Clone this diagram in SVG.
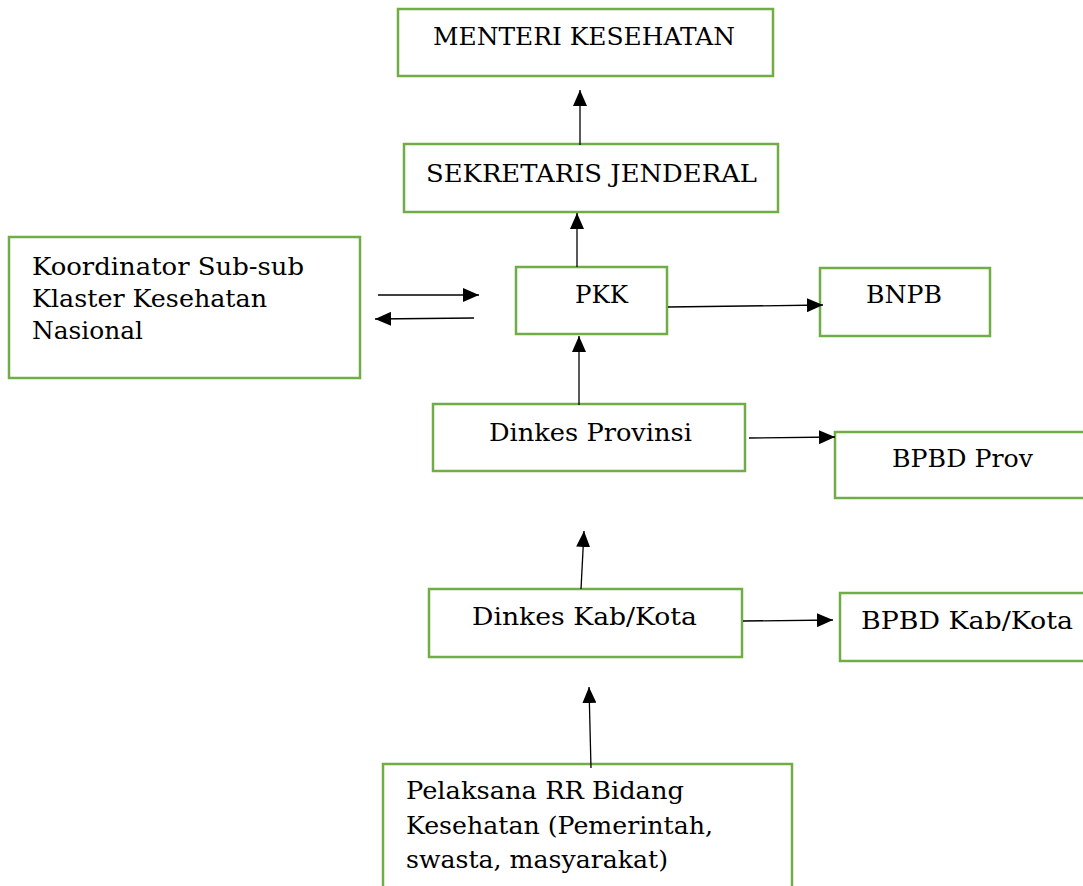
<svg xmlns="http://www.w3.org/2000/svg" width="1083" height="886" viewBox="0 0 1083 886">
<style>
.box{fill:#fff;stroke:#70AD47;stroke-width:2.5}
.t{font-family:"DejaVu Serif","Liberation Serif",serif;font-size:24px;fill:#000}
.ln{stroke:#000;stroke-width:1.3;fill:none;marker-end:url(#ah)}
</style>
<defs>
<marker id="ah" markerUnits="userSpaceOnUse" markerWidth="16" markerHeight="14" refX="16" refY="7" orient="auto">
<path d="M0,0 L16,7 L0,14 Z" fill="#000"/>
</marker>
</defs>
<rect width="1083" height="886" fill="#fff"/>
<g id="menteri"><rect class="box" x="398" y="9" width="375" height="67"/><text class="t" x="433" y="45" textLength="302" lengthAdjust="spacingAndGlyphs">MENTERI KESEHATAN</text></g>
<g id="sekjen"><rect class="box" x="404" y="144" width="374" height="68"/><text class="t" x="426" y="182" textLength="331" lengthAdjust="spacingAndGlyphs">SEKRETARIS JENDERAL</text></g>
<g id="koordinator"><rect class="box" x="9" y="237" width="351" height="141"/><text class="t" x="32" y="275" textLength="272" lengthAdjust="spacingAndGlyphs">Koordinator Sub-sub</text><text class="t" x="32" y="307" textLength="235" lengthAdjust="spacingAndGlyphs">Klaster Kesehatan</text><text class="t" x="32" y="339" textLength="111" lengthAdjust="spacingAndGlyphs">Nasional</text></g>
<g id="pkk"><rect class="box" x="516" y="267" width="151" height="67"/><text class="t" x="575" y="303" textLength="53" lengthAdjust="spacingAndGlyphs">PKK</text></g>
<g id="bnpb"><rect class="box" x="820" y="268" width="170" height="68"/><text class="t" x="866" y="303" textLength="76" lengthAdjust="spacingAndGlyphs">BNPB</text></g>
<g id="dinkesprov"><rect class="box" x="433" y="404" width="312" height="67"/><text class="t" x="489" y="441" textLength="203" lengthAdjust="spacingAndGlyphs">Dinkes Provinsi</text></g>
<g id="bpbdprov"><rect class="box" x="835" y="432" width="260" height="66"/><text class="t" x="892" y="467" textLength="141" lengthAdjust="spacingAndGlyphs">BPBD Prov</text></g>
<g id="dinkeskab"><rect class="box" x="429" y="589" width="313" height="68"/><text class="t" x="472" y="625" textLength="225" lengthAdjust="spacingAndGlyphs">Dinkes Kab/Kota</text></g>
<g id="bpbdkab"><rect class="box" x="840" y="593" width="255" height="68"/><text class="t" x="861" y="629" textLength="212" lengthAdjust="spacingAndGlyphs">BPBD Kab/Kota</text></g>
<g id="pelaksana"><rect class="box" x="383" y="764" width="409" height="140"/><text class="t" x="406" y="799" textLength="278" lengthAdjust="spacingAndGlyphs">Pelaksana RR Bidang</text><text class="t" x="406" y="834" textLength="307" lengthAdjust="spacingAndGlyphs">Kesehatan (Pemerintah,</text><text class="t" x="406" y="868" textLength="262" lengthAdjust="spacingAndGlyphs">swasta, masyarakat)</text></g>
<g id="connectors">
<line class="ln" x1="580" y1="145" x2="580" y2="90"/>
<line class="ln" x1="577" y1="267" x2="577" y2="213"/>
<line class="ln" x1="378" y1="295" x2="479" y2="295"/>
<line class="ln" x1="474" y1="318" x2="375" y2="319"/>
<line class="ln" x1="668" y1="307" x2="823" y2="305"/>
<line class="ln" x1="579" y1="405" x2="579" y2="336"/>
<line class="ln" x1="749" y1="438" x2="835" y2="437"/>
<line class="ln" x1="581" y1="589" x2="584" y2="531"/>
<line class="ln" x1="743" y1="621" x2="833" y2="620"/>
<line class="ln" x1="591" y1="768" x2="589" y2="687"/>
</g>
</svg>
